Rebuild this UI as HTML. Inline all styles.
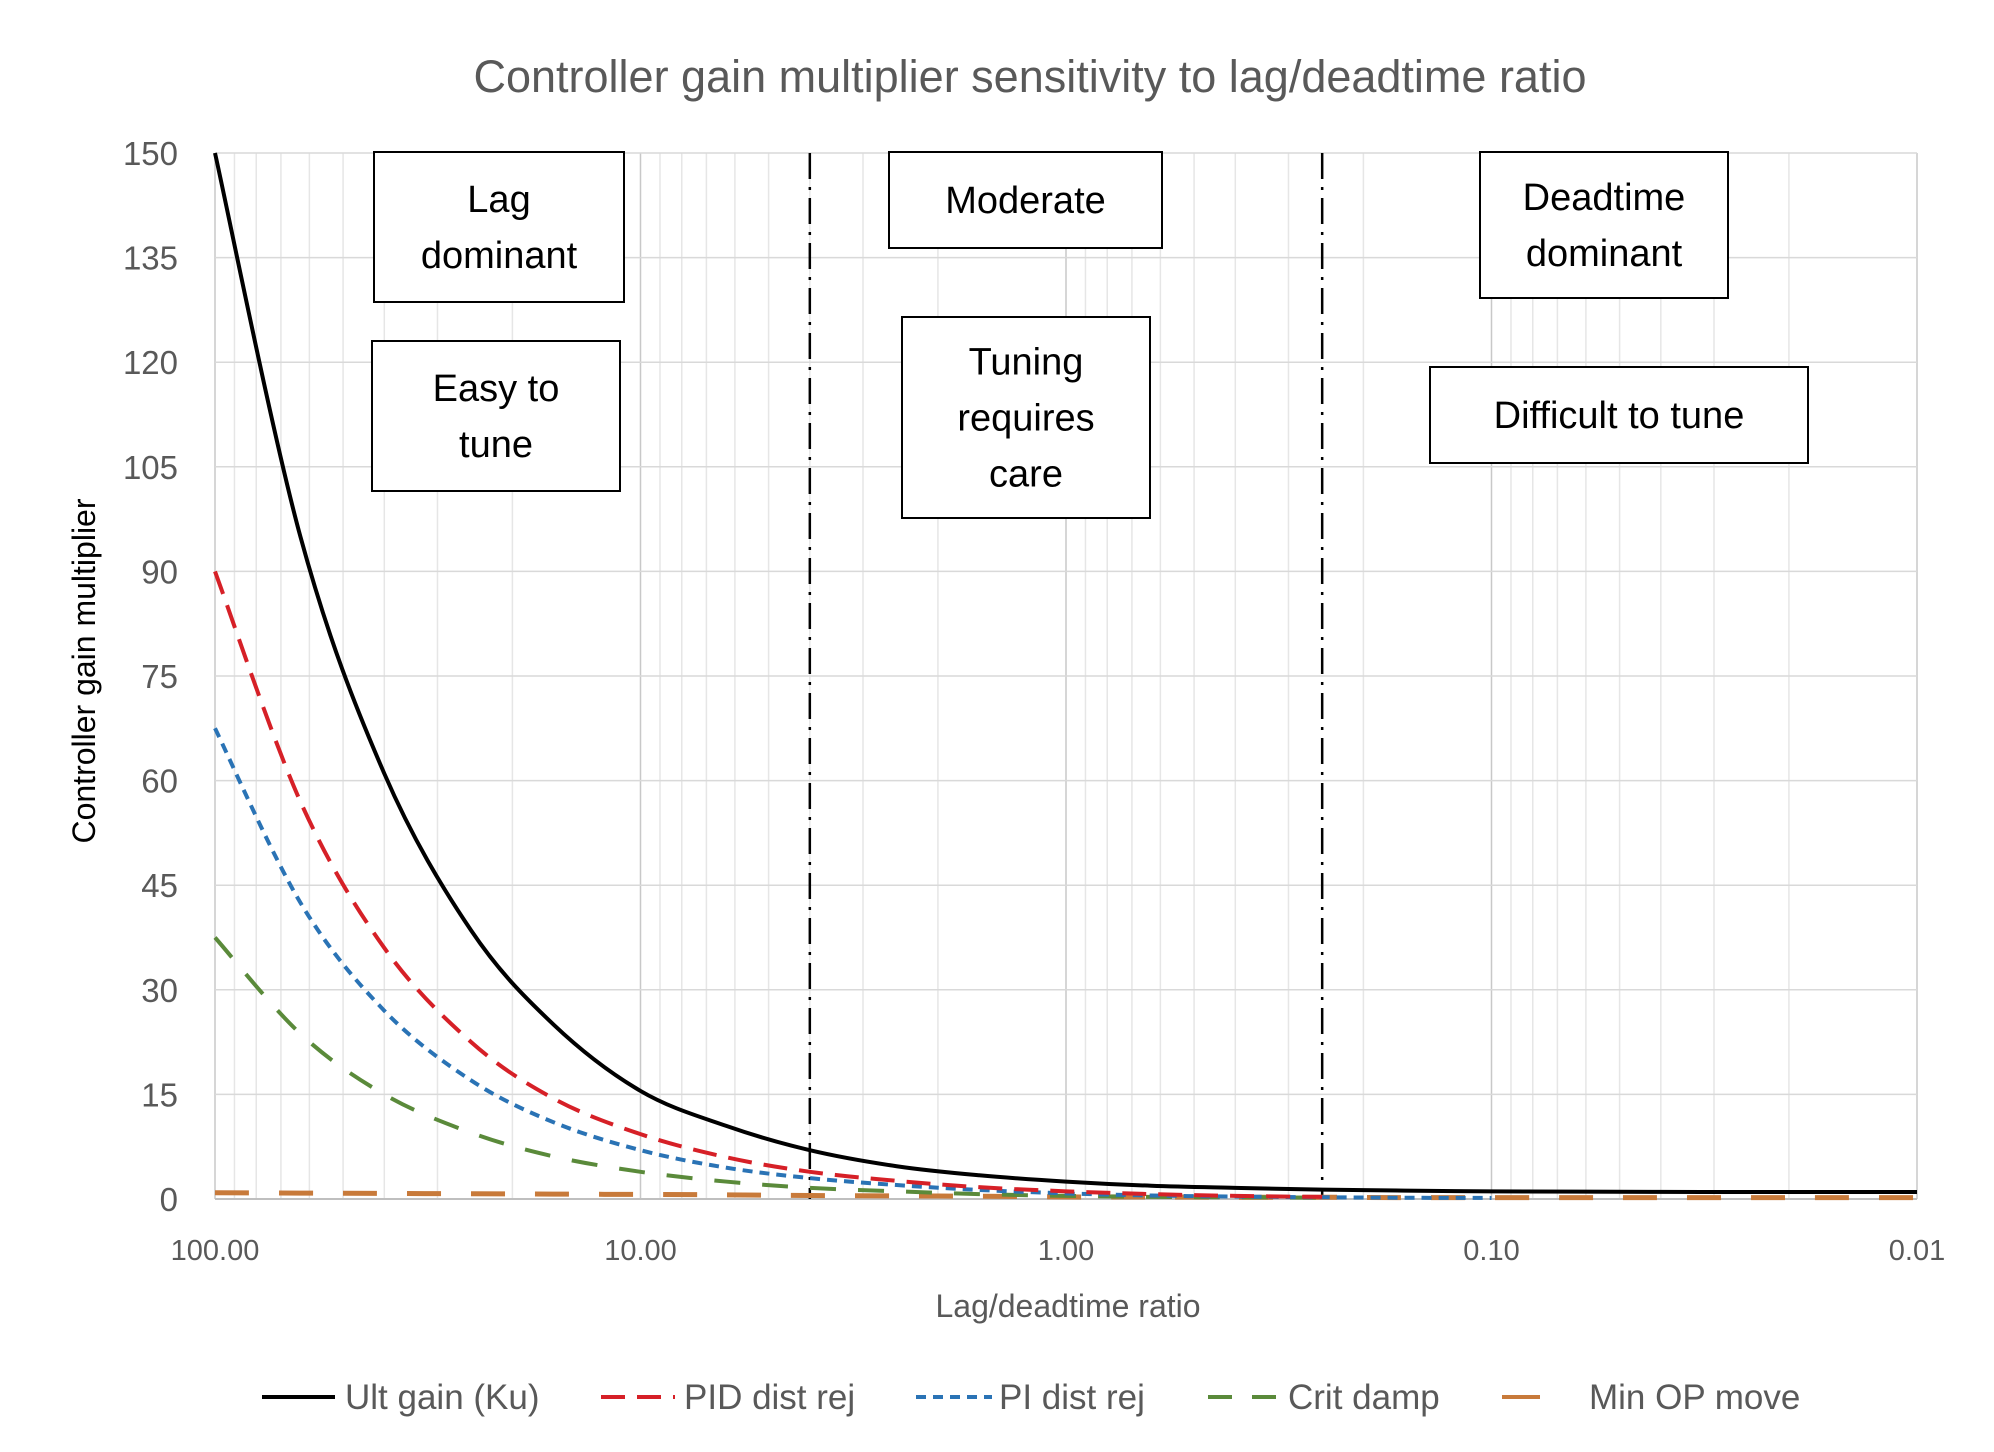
<!DOCTYPE html>
<html><head><meta charset="utf-8"><style>
body{margin:0;background:#fff;}
svg{display:block;font-family:"Liberation Sans",sans-serif;}
</style></head><body>
<svg id="chart" width="1994" height="1452" viewBox="0 0 1994 1452">
<text x="1030" y="92" text-anchor="middle" font-size="45" fill="#595959">Controller gain multiplier sensitivity to lag/deadtime ratio</text>
<g id="grid"></g>
<g id="axes"></g>
<g id="series"></g>
<g id="boxes"></g>
<text x="1068" y="1317" text-anchor="middle" font-size="32" fill="#595959">Lag/deadtime ratio</text>
<text transform="translate(95,671) rotate(-90)" text-anchor="middle" font-size="32" fill="#000">Controller gain multiplier</text>
<g id="legend"></g>
</svg>
<script>
const ratios = [100,63,40,25,16,10,6.3,4,2.5,1.6,1,0.63,0.4,0.25,0.16,0.1,0.063,0.04,0.025,0.016,0.01];
const ultGain = [150,95,61,38.5,25,15.5,10.5,7,4.7,3.4,2.5,1.9,1.6,1.35,1.2,1.1,1.05,1.02,1,1,1];
const pidDistRej = [90,57,36,22.5,14.4,9.3,6,3.9,2.6,1.7,1.1,0.7,0.45,0.3];
const piDistRej = [67.5,42.5,27,17,11,7,4.5,3,2,1.3,0.8,0.5,0.35,0.25,0.18,0.15];
const critDamp = [37.5,23.7,15,9.5,6.1,3.9,2.5,1.6,1.1,0.7,0.45,0.3,0.25,0.2];
const minOpMove = [0.9,0.85,0.8,0.75,0.7,0.65,0.6,0.5,0.45,0.4,0.3,0.3,0.25,0.25,0.2,0.2,0.2,0.2,0.2,0.2,0.2];
const yTicks = [0,15,30,45,60,75,90,105,120,135,150];
const xTicks = [100,10,1,0.1,0.01];
const xTickLabels = ["100.00","10.00","1.00","0.10","0.01"];
const regionBounds = [4,0.25];

const L=215,R=1917,T=153,B=1199;
const xs = r => L + (2-Math.log10(r))/4*(R-L);
const ys = v => B - v/150*(B-T);
const NS="http://www.w3.org/2000/svg";
function mk(tag,attrs,parent){const e=document.createElementNS(NS,tag);for(const k in attrs)e.setAttribute(k,attrs[k]);parent.appendChild(e);return e;}

const grid=document.getElementById('grid');
for(let d=0;d<4;d++){const base=100/Math.pow(10,d);
 for(let m=2;m<=9;m++){const r=base*m/10;
  const ln=mk('line',{x1:xs(r),x2:xs(r),y1:T,y2:B,stroke:'#e6e6e6','stroke-width':1.5},grid);
  
  }}
xTicks.forEach((t,i)=>{
 const ln=mk('line',{x1:xs(t),x2:xs(t),y1:T,y2:B,stroke:'#c8c8c8','stroke-width':1.5},grid);
 
 
 const tx=mk('text',{x:xs(t),y:1260,'text-anchor':'middle','font-size':29,fill:'#595959'},grid);
 tx.textContent=xTickLabels[i];
 
 
});
yTicks.forEach(t=>{
 const ln=mk('line',{x1:L,x2:R,y1:ys(t),y2:ys(t),stroke:t===0?'#bfbfbf':'#d9d9d9','stroke-width':t===0?2:1.5},grid);
 
 
 const tx=mk('text',{x:178,y:ys(t)+12,'text-anchor':'end','font-size':33,fill:'#595959'},grid);
 tx.textContent=t;
 
 
});
const axes=document.getElementById('axes');
regionBounds.forEach(r=>{
 const ln=mk('line',{x1:xs(r),x2:xs(r),y1:T,y2:B,stroke:'#000','stroke-width':2.5,'stroke-dasharray':'26,8,3,8'},axes);
 
 
});

const series=[
 {name:'ult-gain',vals:ultGain,color:'#000',dash:'',w:4},
 {name:'pid-dist-rej',vals:pidDistRej,color:'#d62027',dash:'24,12',w:4},
 {name:'pi-dist-rej',vals:piDistRej,color:'#2a73b5',dash:'10,7',w:4},
 {name:'crit-damp',vals:critDamp,color:'#5a8a3a',dash:'26,22',w:4},
 {name:'min-op-move',vals:minOpMove,color:'#c87a3a',dash:'34,30',w:5}];
const sg=document.getElementById('series');
series.slice().reverse().forEach(s=>{
 const P=s.vals.map((v,i)=>[xs(ratios[i]),ys(v)]);
 let d='M'+P[0][0]+','+P[0][1];
 for(let i=0;i<P.length-1;i++){const p0=P[Math.max(0,i-1)],p1=P[i],p2=P[i+1],p3=P[Math.min(P.length-1,i+2)];
  d+=' C'+(p1[0]+(p2[0]-p0[0])/6)+','+(p1[1]+(p2[1]-p0[1])/6)+' '+(p2[0]-(p3[0]-p1[0])/6)+','+(p2[1]-(p3[1]-p1[1])/6)+' '+p2[0]+','+p2[1];}
 const a={d:d,fill:'none',stroke:s.color,'stroke-width':s.w};
 if(s.dash)a['stroke-dasharray']=s.dash;
 const p=mk('path',a,sg);
 
 
});

const boxes=[
 {n:'lag-dominant-box',x:374,y:152,w:250,h:150,lines:['Lag','dominant']},
 {n:'easy-to-tune-box',x:372,y:341,w:248,h:150,lines:['Easy to','tune']},
 {n:'moderate-box',x:889,y:152,w:273,h:96,lines:['Moderate']},
 {n:'tuning-requires-care-box',x:902,y:317,w:248,h:201,lines:['Tuning','requires','care']},
 {n:'deadtime-dominant-box',x:1480,y:152,w:248,h:146,lines:['Deadtime','dominant']},
 {n:'difficult-to-tune-box',x:1430,y:367,w:378,h:96,lines:['Difficult to tune']}];
const bg=document.getElementById('boxes');
boxes.forEach(b=>{
 const g=mk('g',{},bg);
 
 
 mk('rect',{x:b.x,y:b.y,width:b.w,height:b.h,fill:'#fff',stroke:'#000','stroke-width':2},g);
 const lh=56,n=b.lines.length,cy=b.y+b.h/2;
 b.lines.forEach((t,i)=>{const tx=mk('text',{x:b.x+b.w/2,y:cy+(i-(n-1)/2)*lh+13,'text-anchor':'middle','font-size':38,fill:'#000'},g);tx.textContent=t;});
});

const leg=[
 {n:'legend-ult-gain',x1:262,x2:335,tx:345,label:'Ult gain (Ku)',c:'#000',dash:''},
 {n:'legend-pid-dist-rej',x1:601,x2:675,tx:684,label:'PID dist rej',c:'#d62027',dash:'24,12'},
 {n:'legend-pi-dist-rej',x1:916,x2:992,tx:999,label:'PI dist rej',c:'#2a73b5',dash:'10,7'},
 {n:'legend-crit-damp',x1:1208,x2:1282,tx:1288,label:'Crit damp',c:'#5a8a3a',dash:'24,20'},
 {n:'legend-min-op-move',x1:1502,x2:1540,tx:1589,label:'Min OP move',c:'#c87a3a',dash:''}];
const lg=document.getElementById('legend');
leg.forEach(l=>{
 const g=mk('g',{},lg);
 
 
 const a={x1:l.x1,x2:l.x2,y1:1397,y2:1397,stroke:l.c,'stroke-width':4};
 if(l.dash)a['stroke-dasharray']=l.dash;
 mk('line',a,g);
 const tx=mk('text',{x:l.tx,y:1409,'font-size':35,fill:'#595959'},g);tx.textContent=l.label;
});
</script>
</body></html>
